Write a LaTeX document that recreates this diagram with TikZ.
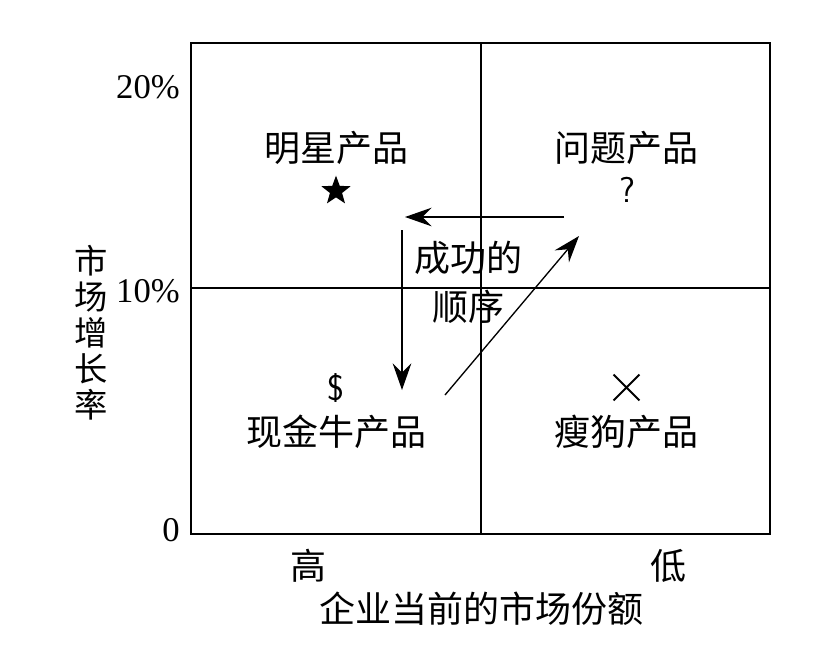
\documentclass[tikz,border=0pt]{standalone}
\usepackage{fontspec}
\setmainfont{Liberation Serif}
\newfontfamily\cjk{Noto Sans CJK SC}
\usetikzlibrary{arrows.meta, shapes.geometric, shapes.misc}

\begin{document}
\begin{tikzpicture}[
      x=0.75pt, y=-0.75pt,
      frame/.style={line width=1.3pt},
      cut/.style={line width=1.1pt},
      quad/.style={font=\cjk\fontsize{27}{30}\selectfont, inner sep=0pt},
      tick/.style={font=\fontsize{26}{28}\selectfont, anchor=east, inner sep=0pt},
      symb/.style={font=\sffamily\fontsize{27}{28}\selectfont, inner sep=0pt},
      flow/.style={-{Stealth[length=20pt, width=14pt, inset=7pt]}, line width=1pt},
    ]
    \useasboundingbox (0,0) rectangle (818,654);

    % lane x / y positions
    \def\xl{191} \def\xm{481} \def\xr{770}
    \def\yt{43} \def\ym{288} \def\yb{534}

    % --- frame and quadrant cuts ---
    \draw[frame] (\xl,\yt) rectangle (\xr,\yb);
    \draw[cut] (\xm,\yt) -- (\xm,\yb);
    \draw[cut] (\xl,\ym) -- (\xr,\ym);

    % --- axis ticks ---
    \node[tick] (t20) at (180,87)  {20\%};
    \node[tick] (t10) at (180,291) {10\%};
    \node[tick] (t0)  at (180,530) {0};

    % --- axis titles ---
    \node[font=\cjk\fontsize{25}{27}\selectfont, align=center, inner sep=0pt]
      (ytitle) at (91,333) {市\\场\\增\\长\\率};
    \node[quad] (hi) at (308,566) {高};
    \node[quad] (lo) at (668,566) {低};
    \node[quad] (xtitle) at (481,609) {企业当前的市场份额};

    % --- quadrants ---
    \node[quad] (star)  at (336,148) {明星产品};
    \node[star, star points=5, star point ratio=2.4, fill=black, inner sep=0pt,
          minimum size=23pt] (starmk) at (336,191) {};
    \node[quad] (qmark) at (626,148) {问题产品};
    \node[symb] (qmk)   at (627,190) {?};
    \node[symb] (cowmk) at (336,388) {\$};
    \node[quad] (cow)   at (336,432) {现金牛产品};
    \node[cross out, draw, line width=1.4pt, inner sep=0pt,
          minimum size=18pt] (dogmk) at (626.5,387.5) {};
    \node[quad] (dog)   at (626,432) {瘦狗产品};

    % --- success order ---
    \node[quad, align=center, font=\cjk\fontsize{27}{37}\selectfont] (order) at (468,282)
      {成功的\\顺序};
    \coordinate (qstart) at (564,217);
    \coordinate (sstop)  at (405,217);
    \coordinate (sstart) at (402,230);
    \coordinate (cstop)  at (402,390);
    \coordinate (cstart) at (445,395);
    \coordinate (qstop)  at (579,236);
    \draw[flow] (qstart) -- (sstop);
    \draw[flow] (sstart) -- (cstop);
    \draw[flow] (cstart) -- (qstop);
  \end{tikzpicture}
\end{document}
